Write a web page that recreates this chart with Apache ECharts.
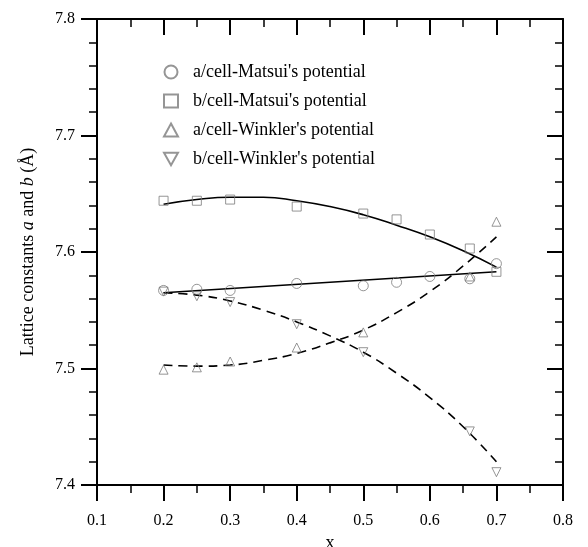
<!DOCTYPE html>
<html>
<head>
<meta charset="utf-8">
<script src="https://cdn.jsdelivr.net/npm/echarts@6/dist/echarts.min.js"></script>
<style>
	html, body { margin: 0; padding: 0; background: #fff; }
	#chart { width: 588px; height: 547px; }
</style>
</head>
<body>
<div id="chart"></div>
<script>
// measured points
const xMatsui = [0.2, 0.25, 0.3, 0.4, 0.5, 0.55, 0.6, 0.66, 0.7];
const aMatsui = [7.567, 7.568, 7.567, 7.573, 7.571, 7.574, 7.579, 7.577, 7.590];
const bMatsui = [7.644, 7.644, 7.645, 7.639, 7.633, 7.628, 7.615, 7.603, 7.583];

const xWinkler = [0.2, 0.25, 0.3, 0.4, 0.5, 0.66, 0.7];
const aWinkler = [7.499, 7.501, 7.506, 7.518, 7.531, 7.579, 7.626];
const bWinkler = [7.566, 7.562, 7.557, 7.538, 7.514, 7.446, 7.411];

// fitted curves
const fitX = [0.2, 0.25, 0.3, 0.35, 0.4, 0.45, 0.5, 0.55, 0.6, 0.65, 0.7];
const bMatsuiFit = [7.641, 7.645, 7.647, 7.647, 7.644, 7.639, 7.632, 7.623, 7.613, 7.601, 7.587];
const aWinklerFit = [7.503, 7.502, 7.503, 7.507, 7.513, 7.522, 7.533, 7.548, 7.566, 7.588, 7.613];
const bWinklerFit = [7.565, 7.563, 7.558, 7.550, 7.540, 7.528, 7.514, 7.496, 7.475, 7.450, 7.420];
const lineX = [0.2, 0.7];
const aMatsuiFit = [7.565, 7.583];

const legendNames = [
	"a/cell-Matsui's potential",
	"b/cell-Matsui's potential",
	"a/cell-Winkler's potential",
	"b/cell-Winkler's potential",
];

const serif = "Liberation Serif";
const markColor = "#7a7a7a";
const downTriangle = "path://M0,0L10,0L5,9Z";

function pairs(xs, ys) {
	return xs.map((x, i) => [x, ys[i]]);
}

function markSeries(name, xs, ys, symbol, size) {
	return {
		name: name,
		type: "scatter",
		data: pairs(xs, ys),
		symbol: symbol,
		symbolSize: size,
		z: 5,
		itemStyle: { color: "rgba(255,255,255,0)", borderColor: markColor, borderWidth: 1 },
	};
}

function fitSeries(xs, ys, dashed) {
	return {
		type: "line",
		data: pairs(xs, ys),
		smooth: true,
		symbol: "none",
		z: 3,
		lineStyle: { color: "#000", width: 1.6, type: dashed ? [9, 6] : "solid" },
	};
}

const chart = echarts.init(document.getElementById("chart"));

const tickLabel = { fontFamily: serif, fontSize: 16, color: "#000" };

chart.setOption({
	animation: false,
	grid: { left: 97, top: 19, width: 466, height: 466, outerBoundsMode: "none" },
	legend: {
		data: [
			{ name: legendNames[0], icon: "circle" },
			{ name: legendNames[1], icon: "rect" },
			{ name: legendNames[2], icon: "triangle" },
			{ name: legendNames[3], icon: downTriangle },
		],
		orient: "vertical",
		left: 158,
		top: 58,
		itemWidth: 14,
		itemHeight: 13,
		itemGap: 11,
		textStyle: { fontFamily: serif, fontSize: 18, color: "#000", padding: [0, 0, 0, 10] },
	},
	xAxis: [
		{
			type: "value",
			position: "bottom",
			min: 0.1,
			max: 0.8,
			interval: 0.1,
			name: "x",
			nameLocation: "middle",
			nameGap: 47,
			nameTextStyle: { fontFamily: serif, fontSize: 18, color: "#000" },
			axisLine: { lineStyle: { color: "#000", width: 2 } },
			axisTick: { length: 16, lineStyle: { color: "#000", width: 2 } },
			minorTick: { show: true, splitNumber: 2, length: 8, lineStyle: { color: "#000", width: 1.5 } },
			axisLabel: Object.assign({ margin: 28, formatter: (v) => v.toFixed(1) }, tickLabel),
			splitLine: { show: false },
		},
		{
			type: "value",
			position: "top",
			min: 0.1,
			max: 0.8,
			interval: 0.1,
			axisLine: { lineStyle: { color: "#000", width: 2 } },
			axisTick: { inside: true, length: 16, lineStyle: { color: "#000", width: 2 } },
			minorTick: { show: true, splitNumber: 2, length: 8, lineStyle: { color: "#000", width: 1.5 } },
			axisLabel: { show: false },
			splitLine: { show: false },
		},
	],
	yAxis: [
		{
			type: "value",
			position: "left",
			min: 7.4,
			max: 7.8,
			interval: 0.1,
			name: "{n|Lattice constants }{i|a}{n| and }{i|b}{n| (Å)}",
			nameLocation: "middle",
			nameGap: 60,
			nameRotate: 90,
			nameTextStyle: {
				rich: {
					n: { fontFamily: serif, fontSize: 18, color: "#000" },
					i: { fontFamily: serif, fontSize: 18, color: "#000", fontStyle: "italic" },
				},
			},
			axisLine: { lineStyle: { color: "#000", width: 2 } },
			axisTick: { length: 16, lineStyle: { color: "#000", width: 2 } },
			minorTick: { show: true, splitNumber: 5, length: 8, lineStyle: { color: "#000", width: 1.5 } },
			axisLabel: Object.assign({ margin: 22, formatter: (v) => v.toFixed(1) }, tickLabel),
			splitLine: { show: false },
		},
		{
			type: "value",
			position: "right",
			min: 7.4,
			max: 7.8,
			interval: 0.1,
			axisLine: { lineStyle: { color: "#000", width: 2 } },
			axisTick: { inside: true, length: 16, lineStyle: { color: "#000", width: 2 } },
			minorTick: { show: true, splitNumber: 5, length: 8, lineStyle: { color: "#000", width: 1.5 } },
			axisLabel: { show: false },
			splitLine: { show: false },
		},
	],
	series: [
		markSeries(legendNames[0], xMatsui, aMatsui, "circle", 10),
		markSeries(legendNames[1], xMatsui, bMatsui, "rect", 9),
		markSeries(legendNames[2], xWinkler, aWinkler, "triangle", 9),
		markSeries(legendNames[3], xWinkler, bWinkler, downTriangle, 9),
		fitSeries(lineX, aMatsuiFit, false),
		fitSeries(fitX, bMatsuiFit, false),
		fitSeries(fitX, aWinklerFit, true),
		fitSeries(fitX, bWinklerFit, true),
	],
});
</script>
</body>
</html>
